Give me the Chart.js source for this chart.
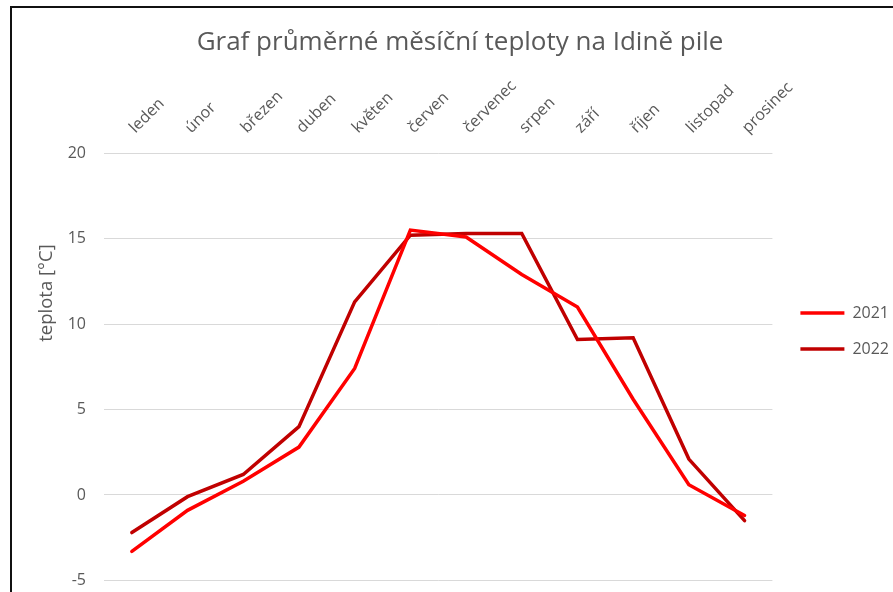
<!DOCTYPE html>
<html>
<head>
<meta charset="utf-8">
<script src="https://cdn.jsdelivr.net/npm/chart.js@4"></script>
<style>
  html, body { margin: 0; padding: 0; background: #fff; overflow: hidden; }
  #frame {
    position: absolute; left: 10px; top: 6px;
    width: 900px; height: 620px;
    border-left: 2px solid #111; border-top: 2px solid #111;
  }
  #chart { display: block; }
</style>
</head>
<body>
<div id="frame"><canvas id="chart" width="887" height="600"></canvas></div>
<script>
// ── Data ──────────────────────────────────────────────────────────────────────
const months = ['leden', 'únor', 'březen', 'duben', 'květen', 'červen',
                'červenec', 'srpen', 'září', 'říjen', 'listopad', 'prosinec'];
const temps2021 = [-3.3, -0.9, 0.8, 2.8, 7.4, 15.5, 15.1, 12.9, 11.0, 5.6, 0.6, -1.2];
const temps2022 = [-2.2, -0.1, 1.2, 4.0, 11.3, 15.2, 15.3, 15.3, 9.1, 9.2, 2.1, -1.5];
const yTicks = [-5, 0, 5, 10, 15, 20];

const FONT = '"Open Sans", Lato, sans-serif';
const GREY = '#595959';

// y axis title sits higher than the plot centre, as in the original
const yTitlePlugin = {
  id: 'yTitle',
  afterDraw(chart) {
    const { ctx } = chart;
    ctx.save();
    ctx.translate(35, 285);
    ctx.rotate(-Math.PI / 2);
    ctx.font = `18.5px ${FONT}`;
    ctx.fillStyle = GREY;
    ctx.textAlign = 'center';
    ctx.textBaseline = 'middle';
    ctx.fillText('teplota [°C]', 0, 0);
    ctx.restore();
  }
};

new Chart(document.getElementById('chart'), {
  type: 'line',
  data: {
    labels: months,
    datasets: [
      { label: '2021', data: temps2021, borderColor: '#ff0000', backgroundColor: '#ff0000' },
      { label: '2022', data: temps2022, borderColor: '#c00000', backgroundColor: '#c00000' },
    ]
  },
  options: {
    responsive: false,
    animation: false,
    devicePixelRatio: 1,
    layout: { padding: { left: 9, right: 0, top: 0, bottom: 0 } },
    elements: {
      line: { borderWidth: 3.5, tension: 0, borderCapStyle: 'round', borderJoinStyle: 'miter' },
      point: { radius: 0, hoverRadius: 0 }
    },
    plugins: {
      title: {
        display: true,
        text: 'Graf průměrné měsíční teploty na Idině pile',
        color: GREY,
        font: { family: FONT, size: 26, weight: 'normal' },
        padding: { top: 18.5, bottom: 10 }
      },
      legend: {
        position: 'right',
        title: { display: true, text: '', font: { size: 16 }, padding: { top: 27, bottom: 0 } },
        labels: {
          usePointStyle: true,
          pointStyleWidth: 44,
          padding: 20,
          color: GREY,
          font: { family: FONT, size: 16 },
          generateLabels: chart => chart.data.datasets.map((ds, i) => ({
            text: ds.label,
            datasetIndex: i,
            strokeStyle: ds.borderColor,
            fillStyle: ds.borderColor,
            lineWidth: 3.5,
            lineCap: 'butt',
            pointStyle: 'line',
            fontColor: GREY,
            hidden: false
          }))
        }
      },
      tooltip: { enabled: false }
    },
    scales: {
      x: {
        position: 'top',
        offset: true,
        grid: { display: false, drawTicks: false },
        border: { display: false },
        ticks: {
          color: GREY, font: { family: FONT, size: 16 },
          minRotation: 45, maxRotation: 45, padding: 16, labelOffset: 14, autoSkip: false
        },
        afterFit: s => { s.height = 85.5; }
      },
      y: {
        min: -5, max: 20,
        afterBuildTicks: s => { s.ticks = yTicks.map(v => ({ value: v })); },
        grid: { color: '#d9d9d9', lineWidth: 1, drawTicks: false },
        border: { display: false },
        ticks: { color: GREY, font: { family: FONT, size: 16 }, padding: 18 },
        afterFit: s => { s.width = 83; }
      },
      gap: {
        position: 'right',
        grid: { display: false, drawTicks: false },
        border: { display: false },
        ticks: { display: false },
        afterFit: s => { s.width = 8; }
      }
    }
  },
  plugins: [yTitlePlugin]
});
</script>
</body>
</html>
